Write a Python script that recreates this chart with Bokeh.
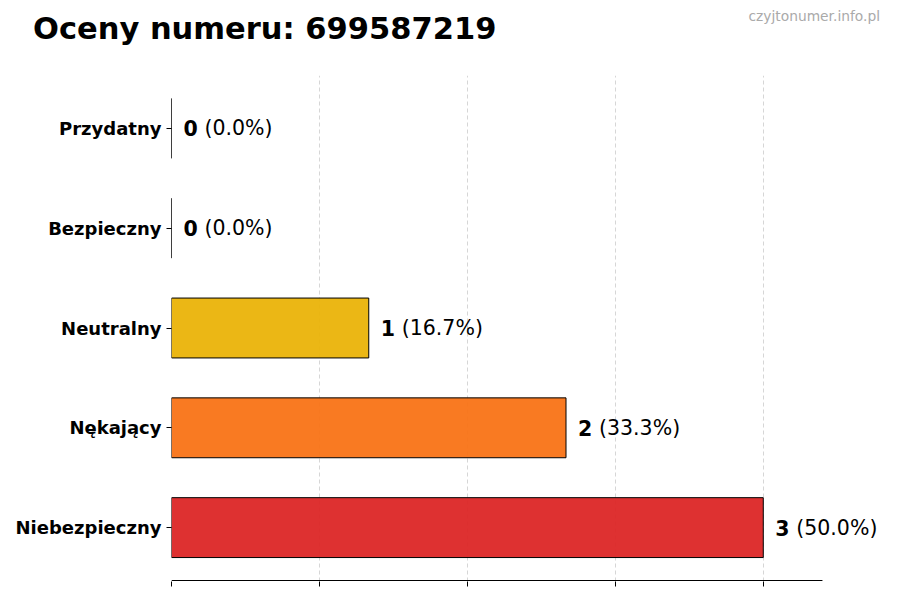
from bokeh.embed import file_html
from bokeh.resources import INLINE
from bokeh.core.properties import value
from bokeh.layouts import column
from bokeh.models import ColumnDataSource, FixedTicker, Div
from bokeh.plotting import figure

categories = ['Niebezpieczny', 'Nękający', 'Neutralny', 'Bezpieczny', 'Przydatny']
counts = [3, 2, 1, 0, 0]
percents = ['50.0%', '33.3%', '16.7%', '0.0%', '0.0%']
colors = ['#dc2626', '#f97316', '#eab308', '#22c55e', '#3b82f6']
x_ticks = [0, 0.75, 1.5, 2.25, 3.0]

FONT = "DejaVu Sans"

ys = list(range(len(categories)))
source = ColumnDataSource(dict(
    y=ys,
    count=counts,
    num=[str(c) for c in counts],
    pct=[f'({p})' for p in percents],
    color=colors,
))

x_max = max(counts) * 1.1
# ramka poszerzona w prawo, zeby etykiety nie byly uciete
p = figure(frame_width=719, frame_height=506,
           min_border_left=171, min_border_right=0,
           min_border_top=0, min_border_bottom=12,
           x_range=(0, x_max + 0.345), y_range=(-0.54, len(categories) - 0.47),
           output_backend="svg", toolbar_location=None, tools="")

p.hbar(y='y', right='count', left=0, height=0.6, source=source,
       fill_color='color', fill_alpha=0.95, line_color='black', line_width=1)

p.text(x='count', y='y', text='num', source=source, x_offset=12,
       text_font=value(FONT), text_font_style='bold', text_font_size='20.5px',
       text_baseline='middle', text_align='left', text_color='black')
p.text(x='count', y='y', text='pct', source=source, x_offset=33,
       text_font=value(FONT), text_font_size='20.5px',
       text_baseline='middle', text_align='left', text_color='black')

# dolna linia osi tylko do x_max
p.segment(x0=[0], y0=[-0.53], x1=[x_max], y1=[-0.53], line_color='black', line_width=1.2)

p.xaxis.ticker = FixedTicker(ticks=x_ticks)
p.xaxis.major_label_overrides = {t: '' for t in x_ticks}
p.xaxis.major_label_standoff = 0
p.xaxis.major_tick_out = 5
p.xaxis.major_tick_in = 0
p.xaxis.minor_tick_line_color = None
p.xaxis.axis_line_color = None

p.yaxis.ticker = FixedTicker(ticks=ys)
p.yaxis.major_label_overrides = {i: c for i, c in enumerate(categories)}
p.yaxis.major_label_text_font = FONT
p.yaxis.major_label_text_font_style = 'bold'
p.yaxis.major_label_text_font_size = '18px'
p.yaxis.major_label_text_color = 'black'
p.yaxis.major_label_standoff = 5
p.yaxis.axis_line_color = None
p.yaxis.major_tick_out = 5
p.yaxis.major_tick_in = 0
p.yaxis.minor_tick_line_color = None

p.xgrid.ticker = FixedTicker(ticks=x_ticks)
p.xgrid.grid_line_color = '#cccccc'
p.xgrid.grid_line_dash = '4 3'
p.xgrid.grid_line_alpha = 0.8
p.ygrid.grid_line_color = None
p.outline_line_color = None

header = Div(width=890, height=75, margin=0, text=(
    f'<div style="position:relative;width:890px;height:75px;font-family:\'{FONT}\';">'
    '<div style="position:absolute;left:33px;top:14.3px;font-size:30.5px;line-height:30.5px;'
    'font-weight:bold;color:black;white-space:nowrap;">Oceny numeru: 699587219</div>'
    '<div style="position:absolute;right:10px;top:10px;font-size:13.8px;line-height:13.8px;'
    'color:#aaaaaa;white-space:nowrap;">czyjtonumer.info.pl</div>'
    '</div>'))

layout = column(header, p, spacing=0)

open("out.html", "w").write(file_html(layout, INLINE))
